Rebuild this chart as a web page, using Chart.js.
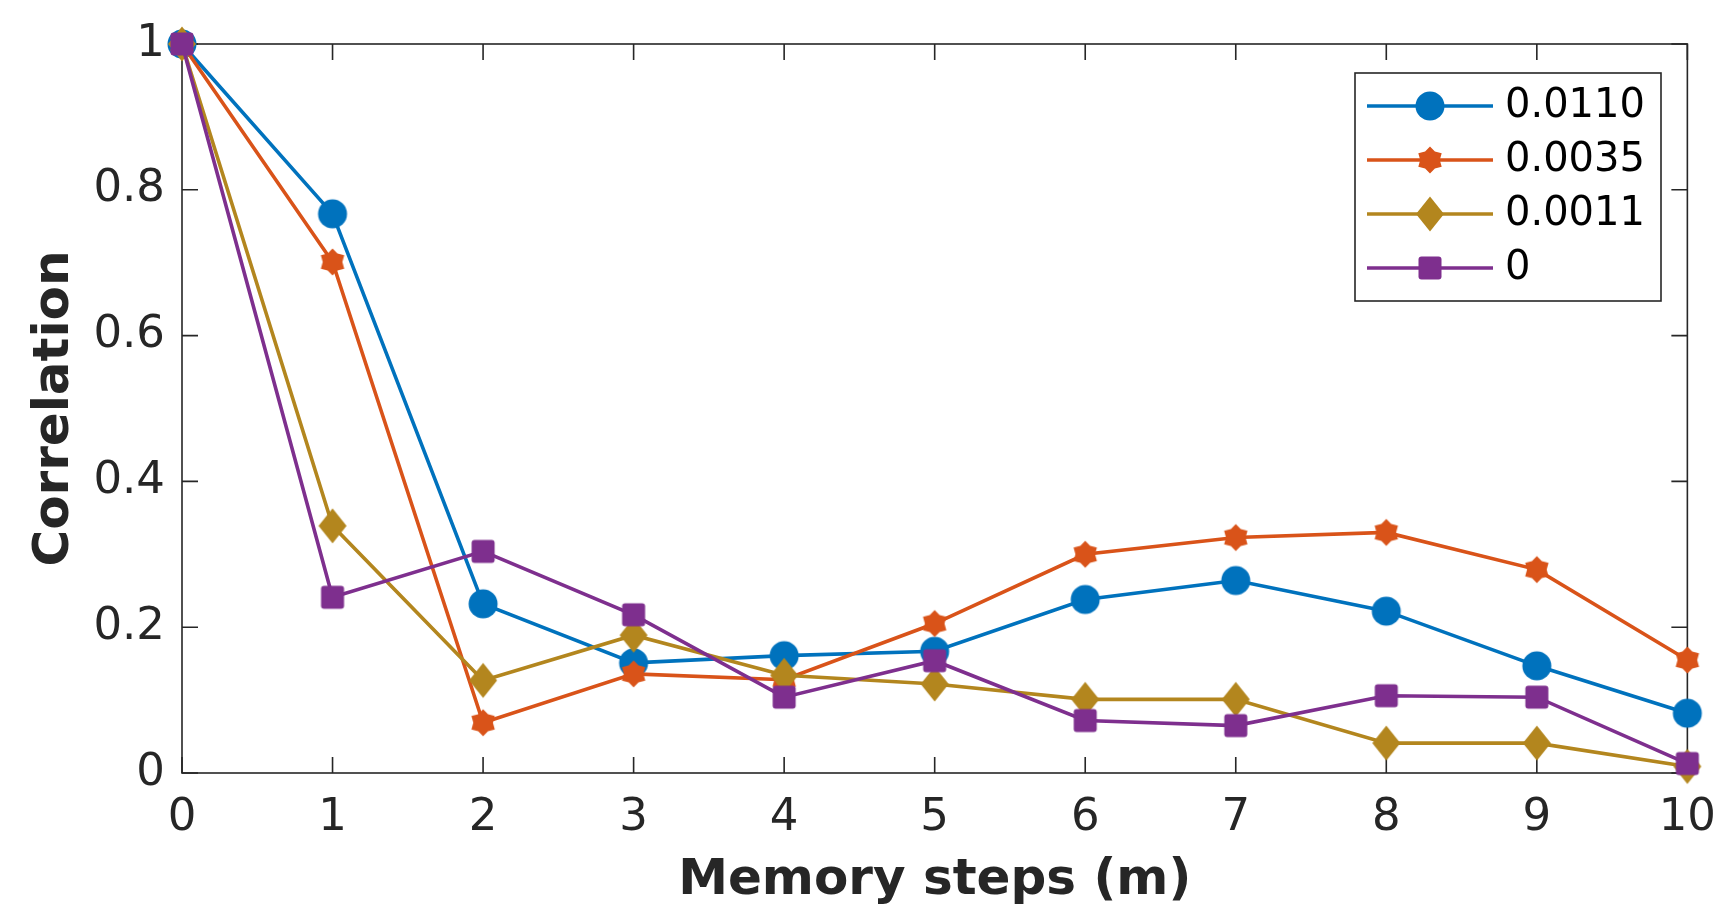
<!DOCTYPE html>
<html>
<head>
<meta charset="utf-8">
<title>Correlation vs memory steps</title>
<script src="https://cdn.jsdelivr.net/npm/chart.js@4.4.1/dist/chart.umd.min.js"></script>
<style>
  html, body { margin: 0; padding: 0; background: #fff; }
  #wrap { width: 1734px; height: 912px; position: relative; }
</style>
</head>
<body>
<div id="wrap"><canvas id="corrChart"></canvas></div>
<script>
// Values
const steps = [0, 1, 2, 3, 4, 5, 6, 7, 8, 9, 10];
const seriesNames = ['0.0110', '0.0035', '0.0011', '0'];
const corr0110 = [1, 0.767, 0.232, 0.151, 0.161, 0.167, 0.238, 0.264, 0.222, 0.147, 0.082];
const corr0035 = [1, 0.701, 0.069, 0.136, 0.128, 0.205, 0.300, 0.323, 0.330, 0.279, 0.155];
const corr0011 = [1, 0.339, 0.127, 0.189, 0.134, 0.122, 0.101, 0.101, 0.041, 0.041, 0.009];
const corr0000 = [1, 0.241, 0.304, 0.217, 0.104, 0.154, 0.072, 0.065, 0.106, 0.104, 0.013];
const xTicks = [0, 1, 2, 3, 4, 5, 6, 7, 8, 9, 10];
const yTicks = [0, 0.2, 0.4, 0.6, 0.8, 1];

const AXIS = '#262626';
const colors = ['#0072BD', '#D95319', '#B3861E', '#7E2F8E'];
const shapes = ['circle', 'hexagram', 'diamond', 'square'];

Chart.defaults.font.family = "'DejaVu Sans', sans-serif";

// Marker images, so the same glyph can be used in the plot and in the legend
function makeMarker(shape, color) {
    const c = document.createElement('canvas');
    let w = 32, h = 32;
    if (shape === 'diamond') { w = 30; h = 38; }
    if (shape === 'square') { w = 26; h = 26; }
    if (shape === 'hexagram') { w = 28; h = 30; }
    c.width = w; c.height = h;
    const g = c.getContext('2d');
    g.fillStyle = color;
    g.beginPath();
    if (shape === 'circle') {
        g.arc(w / 2, h / 2, 14.5, 0, Math.PI * 2);
    } else if (shape === 'square') {
        g.roundRect(1.5, 1.5, 23, 23, 3);
    } else if (shape === 'diamond') {
        g.moveTo(w / 2, 1.5);
        g.lineTo(w - 1, h / 2);
        g.lineTo(w / 2, h - 1.5);
        g.lineTo(1, h / 2);
        g.closePath();
    } else {
        for (let i = 0; i < 12; i++) {
            const r = i % 2 === 0 ? 13.5 : 9.8;
            const a = -Math.PI / 2 + i * Math.PI / 6;
            const px = w / 2 + r * Math.cos(a), py = h / 2 + r * Math.sin(a);
            if (i === 0) g.moveTo(px, py); else g.lineTo(px, py);
        }
        g.closePath();
    }
    g.fill();
    return c;
}

const markers = shapes.map((s, i) => makeMarker(s, colors[i]));
const seriesValues = [corr0110, corr0035, corr0011, corr0000];

const datasets = seriesValues.map((vals, i) => ({
    label: seriesNames[i],
    data: steps.map((s, k) => ({ x: s, y: vals[k] })),
    borderColor: colors[i],
    backgroundColor: colors[i],
    borderWidth: 3.6,
    tension: 0,
    pointStyle: markers[i],
    pointRadius: 14,
    pointHoverRadius: 14,
    clip: false,
    order: 4 - i   // later series drawn on top, as in the original
}));

// Box frame with inward ticks on all four sides
const framePlugin = {
    id: 'frame',
    beforeDatasetsDraw(chart) {
        const { ctx, chartArea: a, scales: { x, y } } = chart;
        const len = 16;
        ctx.save();
        ctx.strokeStyle = AXIS;
        ctx.lineWidth = 1.6;
        ctx.strokeRect(a.left, a.top, a.right - a.left, a.bottom - a.top);
        ctx.beginPath();
        xTicks.forEach(v => {
            const px = x.getPixelForValue(v);
            ctx.moveTo(px, a.bottom); ctx.lineTo(px, a.bottom - len);
            ctx.moveTo(px, a.top); ctx.lineTo(px, a.top + len);
        });
        yTicks.forEach(v => {
            const py = y.getPixelForValue(v);
            ctx.moveTo(a.left, py); ctx.lineTo(a.left + len, py);
            ctx.moveTo(a.right, py); ctx.lineTo(a.right - len, py);
        });
        ctx.stroke();
        ctx.restore();
    }
};

// Legend box in the upper right, line + marker like the original
const legendPlugin = {
    id: 'boxLegend',
    afterDraw(chart) {
        const { ctx } = chart;
        const box = { left: 1355, top: 73, right: 1661, bottom: 301 };
        ctx.save();
        ctx.fillStyle = '#fff';
        ctx.fillRect(box.left, box.top, box.right - box.left, box.bottom - box.top);
        ctx.strokeStyle = AXIS;
        ctx.lineWidth = 1.6;
        ctx.strokeRect(box.left, box.top, box.right - box.left, box.bottom - box.top);
        ctx.font = "40px 'DejaVu Sans'";
        ctx.textBaseline = 'middle';
        ctx.textAlign = 'left';
        chart.data.datasets.forEach((ds, i) => {
            const cy = 106 + i * 54;
            ctx.strokeStyle = ds.borderColor;
            ctx.lineWidth = 3.6;
            ctx.beginPath();
            ctx.moveTo(1367, cy); ctx.lineTo(1493, cy);
            ctx.stroke();
            const m = ds.pointStyle;
            ctx.drawImage(m, 1430 - m.width / 2, cy - m.height / 2);
            ctx.fillStyle = '#000';
            ctx.fillText(ds.label, 1505, cy + 1);
        });
        ctx.restore();
    }
};

const ctx = document.getElementById('corrChart').getContext('2d');
new Chart(ctx, {
    type: 'line',
    data: { datasets },
    options: {
        responsive: true,
        maintainAspectRatio: false,
        animation: false,
        layout: { padding: { top: 39, right: 40, left: 0, bottom: 0 } },
        plugins: { legend: { display: false }, tooltip: { enabled: false } },
        scales: {
            x: {
                type: 'linear',
                min: 0,
                max: 10,
                afterBuildTicks: s => { s.ticks = xTicks.map(v => ({ value: v })); },
                afterFit: s => { s.height = 139; },
                grid: { display: false, drawTicks: false },
                border: { display: false },
                ticks: {
                    autoSkip: false, maxRotation: 0, padding: 18,
                    color: AXIS, font: { size: 45 },
                    callback: v => String(v)
                },
                title: {
                    display: true, text: 'Memory steps (m)', color: AXIS,
                    font: { size: 50, weight: 'bold' },
                    padding: { top: 0, bottom: 1 }
                }
            },
            y: {
                min: 0,
                max: 1,
                afterBuildTicks: s => { s.ticks = yTicks.map(v => ({ value: v })); },
                afterFit: s => { s.width = 182; },
                grid: { display: false, drawTicks: false },
                border: { display: false },
                ticks: {
                    padding: 17, color: AXIS, font: { size: 45 },
                    callback: v => (v === 0 || v === 1) ? String(v) : v.toFixed(1)
                },
                title: {
                    display: true, text: 'Correlation', color: AXIS,
                    font: { size: 50, weight: 'bold' },
                    padding: { top: 25, bottom: 0 }
                }
            }
        }
    },
    plugins: [framePlugin, legendPlugin]
});
</script>
</body>
</html>
